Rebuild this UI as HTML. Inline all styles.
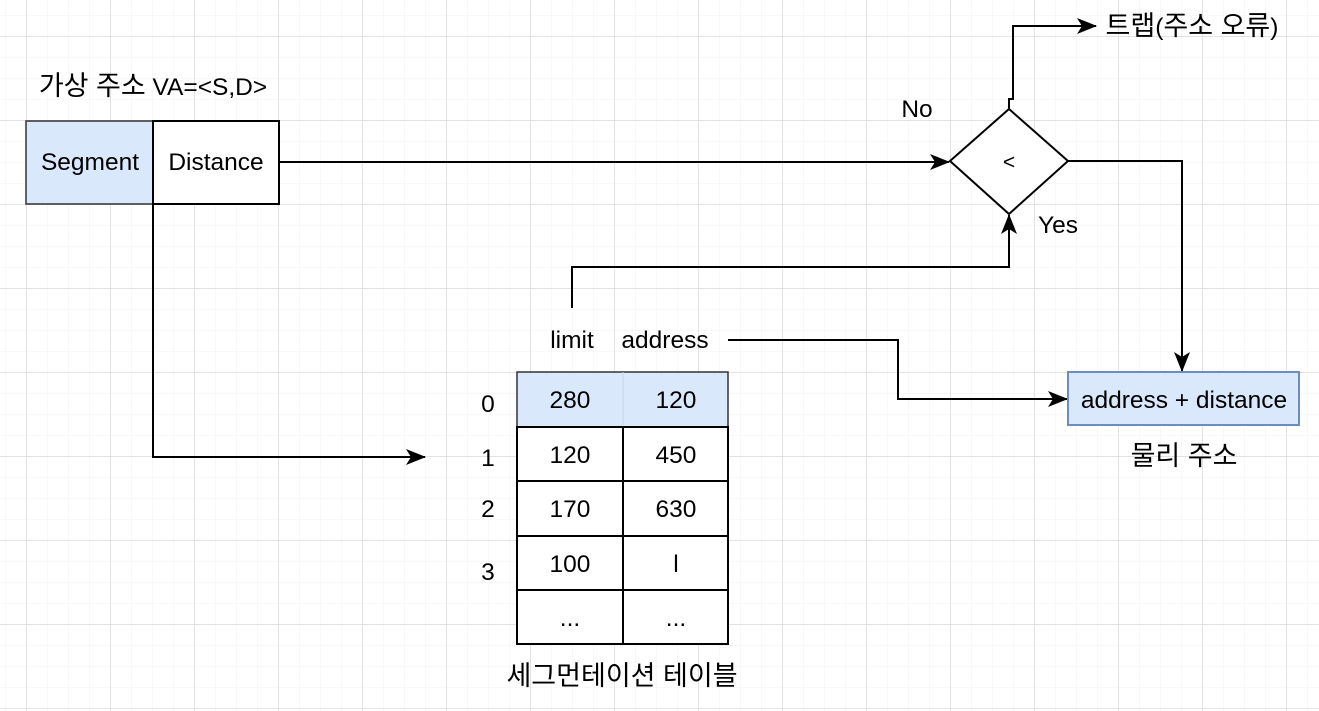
<!DOCTYPE html>
<html><head><meta charset="utf-8"><style>
html,body{margin:0;padding:0;background:#fff}
svg{display:block}
text{font-family:"Liberation Sans","Noto Sans CJK KR",sans-serif;font-size:24.5px;fill:#000}
.k{font-size:27px}
</style></head><body>
<svg width="1319" height="711" viewBox="0 0 1319 711" xmlns="http://www.w3.org/2000/svg">
<defs>
<pattern id="minor" x="5" y="15" width="21" height="21" patternUnits="userSpaceOnUse">
<path d="M0 0H21M0 0V21" stroke="#f2f2f2" stroke-width="1" fill="none"/>
</pattern>
<pattern id="major" x="26" y="36" width="84" height="84" patternUnits="userSpaceOnUse">
<path d="M0 0.5H84M0.5 0V84" stroke="#e2e2e2" stroke-width="1" fill="none"/>
</pattern>
<marker id="a" markerWidth="20" markerHeight="18" refX="19" refY="9" orient="auto" markerUnits="userSpaceOnUse">
<path d="M0 1L20 9L0 17L5 9Z" fill="#000"/>
</marker>
</defs>
<rect width="1319" height="711" fill="url(#minor)"/>
<rect width="1319" height="711" fill="url(#major)"/>

<g fill="none" stroke="#000" stroke-width="2">
<path d="M279 162H949" marker-end="url(#a)"/>
<path d="M153 204V457H425" marker-end="url(#a)"/>
<path d="M572 308V267H1009V215" marker-end="url(#a)"/>
<path d="M728 340H898V399H1067" marker-end="url(#a)"/>
<path d="M1068 161H1182V371" marker-end="url(#a)"/>
<path d="M1009 109V99H1013V26H1096" marker-end="url(#a)"/>
<path d="M950 161L1009 109L1068 161L1009 214Z" fill="#fff"/>
</g>

<rect x="26" y="121" width="127" height="83" fill="#dae8fc" stroke="#333" stroke-width="1.5"/>
<rect x="153" y="121" width="126" height="83" fill="#fff" stroke="#000" stroke-width="2"/>
<text x="90" y="170" text-anchor="middle">Segment</text>
<text x="216" y="170" text-anchor="middle">Distance</text>
<text x="153" y="95" text-anchor="middle"><tspan class="k">가상 주소</tspan> VA=&lt;S,D&gt;</text>

<text x="1009" y="169" text-anchor="middle" style="font-size:21px">&lt;</text>
<text x="917" y="117" text-anchor="middle">No</text>
<text x="1058" y="233" text-anchor="middle">Yes</text>
<text x="1192" y="35" text-anchor="middle"><tspan class="k">트랩</tspan>(<tspan class="k">주소 오류</tspan>)</text>

<text x="572" y="348" text-anchor="middle">limit</text>
<text x="665" y="348" text-anchor="middle">address</text>

<rect x="517" y="372" width="211" height="55" fill="#dae8fc" stroke="#333" stroke-width="1.5"/>
<line x1="623" y1="372" x2="623" y2="427" stroke="#c8d4e4" stroke-width="1"/>
<g fill="#fff" stroke="#000" stroke-width="2">
<rect x="517" y="427" width="106" height="54"/><rect x="623" y="427" width="105" height="54"/>
<rect x="517" y="481" width="106" height="55"/><rect x="623" y="481" width="105" height="55"/>
<rect x="517" y="536" width="106" height="54"/><rect x="623" y="536" width="105" height="54"/>
<rect x="517" y="590" width="106" height="54"/><rect x="623" y="590" width="105" height="54"/>
</g>
<g text-anchor="middle">
<text x="570" y="408">280</text><text x="676" y="408">120</text>
<text x="570" y="463">120</text><text x="676" y="463">450</text>
<text x="570" y="517">170</text><text x="676" y="517">630</text>
<text x="570" y="572">100</text><text x="676" y="572">l</text>
<text x="570" y="626">...</text><text x="676" y="626">...</text>
<text x="488" y="412">0</text>
<text x="488" y="466">1</text>
<text x="488" y="517">2</text>
<text x="488" y="580">3</text>
<text x="622" y="685" class="k">세그먼테이션 테이블</text>
</g>

<rect x="1068" y="372" width="231" height="53" fill="#dae8fc" stroke="#6c8ebf" stroke-width="2"/>
<text x="1184" y="408" text-anchor="middle">address + distance</text>
<text x="1184" y="465" text-anchor="middle" class="k">물리 주소</text>
</svg>
</body></html>
